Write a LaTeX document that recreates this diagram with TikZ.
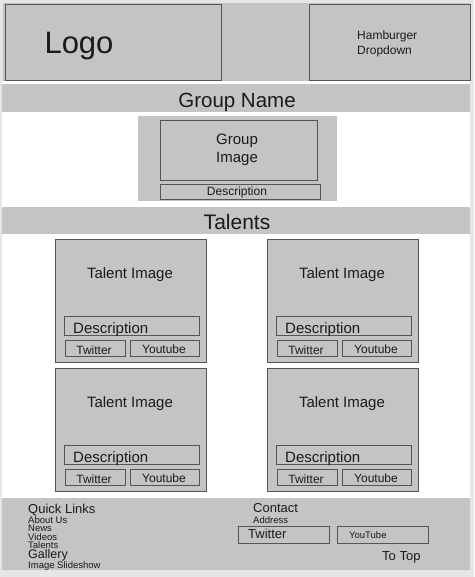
\documentclass[tikz,border=0pt]{standalone}
\usepackage{fontspec}
\setmainfont{Liberation Sans}
\definecolor{pagebg}{HTML}{E6E6E6}
\definecolor{panel}{HTML}{C4C4C4}
\definecolor{edge}{HTML}{555555}
\definecolor{ink}{HTML}{1A1A1A}
\newcommand{\fs}[1]{\fontsize{#1}{#1}\selectfont}
\tikzset{
  band/.style={fill=panel, draw=none},
  box/.style={draw=edge, fill=panel, line width=0.9pt, inner sep=0pt, anchor=north west},
  txt/.style={text=ink, inner sep=0pt, anchor=base},
}
\begin{document}
\begin{tikzpicture}[x=1pt,y=-1pt]
\useasboundingbox (0,0) rectangle (474,577);
\fill[pagebg] (0,0) rectangle (474,577);
\fill[white] (2,81) rectangle (470,570);
% header
\fill[band] (3,3) rectangle (470,81);
\node[box, minimum width=216, minimum height=76] (logo) at (5,4) {};
\node[txt, font=\fs{31}] (logotext) at (79,53.5) {Logo};
\node[box, minimum width=161, minimum height=76] (menu) at (309,4) {};
\node[txt, font=\fs{12}, anchor=base west] (menutext1) at (357,40) {Hamburger};
\node[txt, font=\fs{12}, anchor=base west] (menutext2) at (357,54.5) {Dropdown};
% group name
\fill[band] (2,84) rectangle (470,112);
\node[txt, font=\fs{20.5}] (groupname) at (237,107.5) {Group Name};
\fill[band] (138,116) rectangle (337,201);
\node[box, minimum width=157, minimum height=60] (gimg) at (160,120) {};
\node[txt, font=\fs{15}] (gimgtext1) at (237,145) {Group};
\node[txt, font=\fs{15}] (gimgtext2) at (237,163) {Image};
\node[box, minimum width=160, minimum height=15] (gdesc) at (160,184) {};
\node[txt, font=\fs{12}] (gdesctext) at (237,195.5) {Description};
% talents
\fill[band] (2,207) rectangle (470,234);
\node[txt, font=\fs{21}] (talents) at (237,229) {Talents};
\foreach \i/\X/\Y in {1/55/239, 2/267/239, 3/55/368, 4/267/368} {
  \node[box, minimum width=151, minimum height=123] (card\i) at (\X,\Y) {};
  \node[txt, font=\fs{15}] (img\i) at (\X+75,\Y+39) {Talent Image};
  \node[box, minimum width=135, minimum height=19] (desc\i) at (\X+9,\Y+77) {};
  \node[txt, font=\fs{15}, anchor=base west] (desctext\i) at (\X+18,\Y+94) {Description};
  \node[box, minimum width=60, minimum height=16] (tw\i) at (\X+10,\Y+101) {};
  \node[txt, font=\fs{12}] (twtext\i) at (\X+39,\Y+115) {Twitter};
  \node[box, minimum width=69, minimum height=16] (yt\i) at (\X+75,\Y+101) {};
  \node[txt, font=\fs{12}] (yttext\i) at (\X+109,\Y+114) {Youtube};
}
% footer
\fill[band] (2,498) rectangle (470,570);
\node[txt, font=\fs{13}, anchor=base west] (ql) at (28,513.5) {Quick Links};
\node[txt, font=\fs{9.5}, anchor=base west] (l1) at (28,523) {About Us};
\node[txt, font=\fs{9.5}, anchor=base west] (l2) at (28,531.5) {News};
\node[txt, font=\fs{9.5}, anchor=base west] (l3) at (28,540) {Videos};
\node[txt, font=\fs{9.5}, anchor=base west] (l4) at (28,548) {Talents};
\node[txt, font=\fs{12.5}, anchor=base west] (l5) at (28,558.5) {Gallery};
\node[txt, font=\fs{9.5}, anchor=base west] (l6) at (28,568) {Image Slideshow};
\node[txt, font=\fs{13}, anchor=base west] (contact) at (253,512) {Contact};
\node[txt, font=\fs{9.5}, anchor=base west] (addr) at (253,523.5) {Address};
\node[box, minimum width=91, minimum height=17] (ftw) at (238,526) {};
\node[txt, font=\fs{13}, anchor=base west] (ftwtext) at (248,538.5) {Twitter};
\node[box, minimum width=91, minimum height=17] (fyt) at (337,526) {};
\node[txt, font=\fs{9.5}, anchor=base west] (fyttext) at (349,538) {YouTube};
\node[txt, font=\fs{13}, anchor=base west] (totop) at (382,560.5) {To Top};
\end{tikzpicture}
\end{document}
